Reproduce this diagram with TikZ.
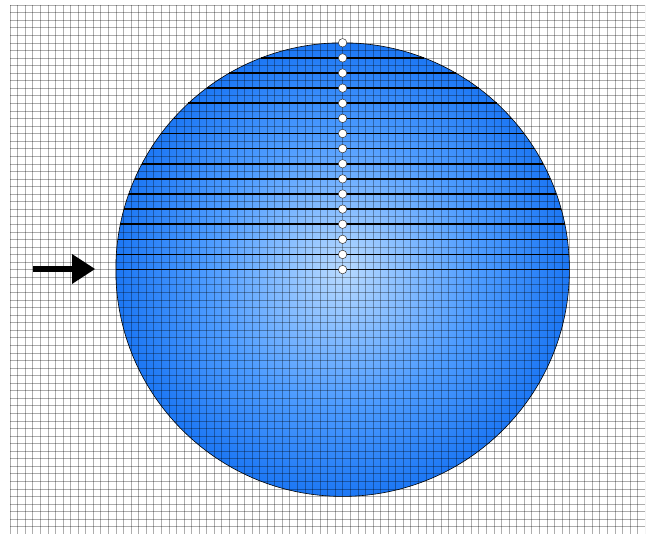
\documentclass[tikz,border=0pt]{standalone}
\usetikzlibrary{calc}
\definecolor{ballin}{HTML}{B8DAFF}
\definecolor{ballmid}{HTML}{4C9BFF}
\definecolor{ballout}{HTML}{0062EE}
\pgfdeclareradialshading{ballshade}{\pgfpoint{0bp}{0bp}}{color(0bp)=(ballin); color(15bp)=(ballmid); color(31bp)=(ballout); color(100bp)=(ballout)}
\tikzset{
  gridline/.style={draw=black, draw opacity=0.32, line width=0.45pt},
  chord/.style={draw=black, line width=1.7pt},
  dotmark/.style={circle, draw=black!80, fill=white, line width=0.5pt, minimum size=8.5pt, inner sep=0pt},
  ball/.style={shading=ballshade},
}
\begin{document}
\begin{tikzpicture}[x=1pt,y=-1pt]
\useasboundingbox (0,0) rectangle (649,534);
\fill[white] (0,0) rectangle (649,534);
\def\cell{7.56}
\coordinate (C) at (342.6,269.6);
% shaded ball
\shade[ball] (C) circle (226.8);
% grid
\begin{scope}
\clip (10,5) rectangle (645.1,534);
\foreach \i in {0,...,84} {
  \draw[gridline] ({10+\i*\cell},5) -- ({10+\i*\cell},540);
}
\foreach \j in {0,...,70} {
  \draw[gridline] (10,{5+\j*\cell}) -- (645.1,{5+\j*\cell});
}
\end{scope}
% chords and dots
\foreach \k in {0,...,15} {
  \pgfmathsetmacro{\t}{1-\k/15}
  \pgfmathsetmacro{\hw}{226.8*sqrt(max(1-\t*\t,0))}
  \pgfmathsetmacro{\vy}{226.8*\t}
  \coordinate (L\k) at ($(C)+(-\hw,-\vy)$);
  \coordinate (R\k) at ($(C)+(\hw,-\vy)$);
  \draw[chord] (L\k) -- (R\k);
}
\draw[black, line width=0.6pt] (C) circle (226.8);
\foreach \k in {0,...,15} {
  \pgfmathsetmacro{\vy}{226.8*(1-\k/15)}
  \node[dotmark] (d\k) at ($(C)+(0,-\vy)$) {};
}
% arrow
\coordinate (a0) at (33,269);
\coordinate (a1) at (72,269);
\coordinate (a2) at (95,269);
\draw[black, line width=6.5pt] (a0) -- ($(a1)+(1,0)$);
\fill[black] (a2) -- ($(a1)+(0,-15)$) -- ($(a1)+(0,15)$) -- cycle;
\end{tikzpicture}
\end{document}
